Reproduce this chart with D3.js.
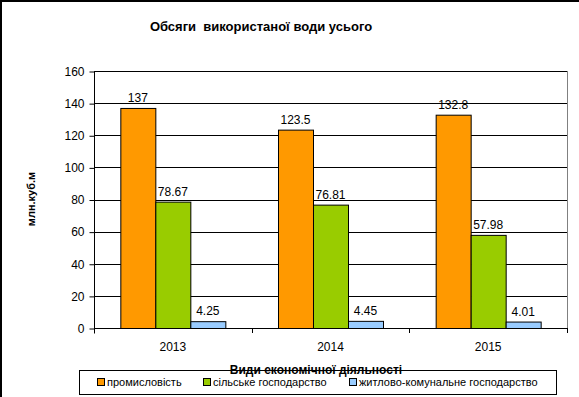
<!DOCTYPE html>
<html lang="uk">
  <head>
    <meta charset="UTF-8" />
    <title>Обсяги використаної води усього</title>
    <script src="https://d3js.org/d3.v7.min.js"></script>
    <style>
      body {
        margin: 0;
        background: #fff;
        font-family: "Liberation Sans", Arial, sans-serif;
      }
      svg {
        display: block;
      }
      .title {
        font-size: 13px;
        font-weight: bold;
        text-anchor: middle;
        white-space: pre;
      }
      .axis-title {
        font-size: 11px;
        font-weight: bold;
        text-anchor: middle;
      }
      .tick-label {
        font-size: 12px;
      }
      .value-label {
        font-size: 12px;
        text-anchor: middle;
      }
      .legend-text {
        font-size: 11px;
      }
    </style>
  </head>
  <body>
    <svg id="chart"></svg>

    <script>
      // chart data
      const years = ["2013", "2014", "2015"];
      const seriesNames = [
        "промисловість",
        "сільське господарство",
        "житлово-комунальне господарство",
      ];
      const industry = [137, 123.5, 132.8];
      const agriculture = [78.67, 76.81, 57.98];
      const housing = [4.25, 4.45, 4.01];
      const yTicks = [0, 20, 40, 60, 80, 100, 120, 140, 160];
      const colors = ["#ff9900", "#99cc00", "#99ccff"];

      const width = 579;
      const height = 397;
      const margin = { top: 71, right: 12, bottom: 69, left: 94 };

      const svg = d3
        .select("#chart")
        .attr("width", width)
        .attr("height", height);

      // outer frame (only left and top visible)
      svg
        .append("path")
        .attr("d", `M1,${height} V1 H${width}`)
        .attr("fill", "none")
        .attr("stroke", "#000")
        .attr("stroke-width", 2);

      const x = d3
        .scaleBand()
        .domain(years)
        .range([margin.left, width - margin.right]);

      const y = d3
        .scaleLinear()
        .domain([0, 160])
        .range([height - margin.bottom, margin.top]);

      const barW = x.bandwidth() * 0.222;
      const seriesValues = [industry, agriculture, housing];

      // gridlines
      svg
        .append("g")
        .selectAll("line")
        .data(yTicks.filter((d) => d > 0))
        .enter()
        .append("line")
        .attr("x1", margin.left)
        .attr("x2", width - margin.right)
        .attr("y1", (d) => Math.round(y(d)) + 0.5)
        .attr("y2", (d) => Math.round(y(d)) + 0.5)
        .attr("stroke", "#000");

      // right border of the plot
      svg
        .append("line")
        .attr("x1", width - margin.right + 0.5)
        .attr("x2", width - margin.right + 0.5)
        .attr("y1", margin.top)
        .attr("y2", height - margin.bottom)
        .attr("stroke", "#808080");

      // bars
      seriesValues.forEach((vals, si) => {
        svg
          .append("g")
          .selectAll("rect")
          .data(vals)
          .enter()
          .append("rect")
          .attr("x", (d, i) => x(years[i]) + x.bandwidth() / 2 - 1.5 * barW + si * barW + 0.5)
          .attr("y", (d) => y(d) + 0.5)
          .attr("width", barW)
          .attr("height", (d) => y(0) - y(d))
          .attr("fill", colors[si])
          .attr("stroke", "#000");

        svg
          .append("g")
          .selectAll("text")
          .data(vals)
          .enter()
          .append("text")
          .attr("class", "value-label")
          .attr("x", (d, i) => x(years[i]) + x.bandwidth() / 2 - barW + si * barW)
          .attr("y", (d) => y(d) - 6)
          .text((d) => d);
      });

      // y axis
      const yAxis = svg
        .append("g")
        .attr("transform", `translate(${margin.left + 0.5}, 0.5)`)
        .call(d3.axisLeft(y).tickValues(yTicks).tickSize(5).tickPadding(5));
      yAxis.select(".domain").attr("d", `M0,${margin.top}V${height - margin.bottom + 5}`);
      yAxis.selectAll("text").attr("class", "tick-label").attr("fill", "#000");
      yAxis.attr("font-size", null).attr("font-family", null);
      yAxis.selectAll("line").attr("stroke", "#000");

      // x axis
      const xAxis = svg
        .append("g")
        .attr("transform", `translate(0, ${height - margin.bottom + 0.5})`)
        .call(d3.axisBottom(x).tickSize(0).tickPadding(14));
      xAxis.attr("font-size", null).attr("font-family", null);
      xAxis.select(".domain").attr("d", `M${margin.left},0H${width - margin.right}`);
      xAxis.selectAll("text").attr("class", "tick-label").attr("fill", "#000");
      // category separator ticks
      svg
        .append("g")
        .selectAll("line")
        .data(years.concat(["end"]))
        .enter()
        .append("line")
        .attr("x1", (d, i) => Math.round(margin.left + i * x.step()) + 0.5)
        .attr("x2", (d, i) => Math.round(margin.left + i * x.step()) + 0.5)
        .attr("y1", y(0))
        .attr("y2", y(0) + 5)
        .attr("stroke", "#000");

      // titles
      svg
        .append("text")
        .attr("class", "title")
        .attr("x", 261)
        .attr("y", 31)
        .text("Обсяги  використаної води усього");

      svg
        .append("text")
        .attr("class", "axis-title")
        .attr("transform", "rotate(-90)")
        .attr("x", -199)
        .attr("y", 35)
        .text("млн.куб.м");

      svg
        .append("text")
        .attr("class", "axis-title")
        .style("font-size", "12px")
        .attr("x", 316)
        .attr("y", 374)
        .text("Види економічної діяльності");

      // legend
      const legend = svg.append("g");
      legend
        .append("rect")
        .attr("x", 79.5)
        .attr("y", 370.5)
        .attr("width", 477)
        .attr("height", 24)
        .attr("fill", "none")
        .attr("stroke", "#000");

      const legendX = [97, 203, 349];
      seriesNames.forEach((name, i) => {
        legend
          .append("rect")
          .attr("x", legendX[i] + 0.5)
          .attr("y", 378.5)
          .attr("width", 7)
          .attr("height", 7)
          .attr("fill", colors[i])
          .attr("stroke", "#000");
        legend
          .append("text")
          .attr("class", "legend-text")
          .attr("x", legendX[i] + 10)
          .attr("y", 386)
          .text(name);
      });
    </script>
  </body>
</html>
